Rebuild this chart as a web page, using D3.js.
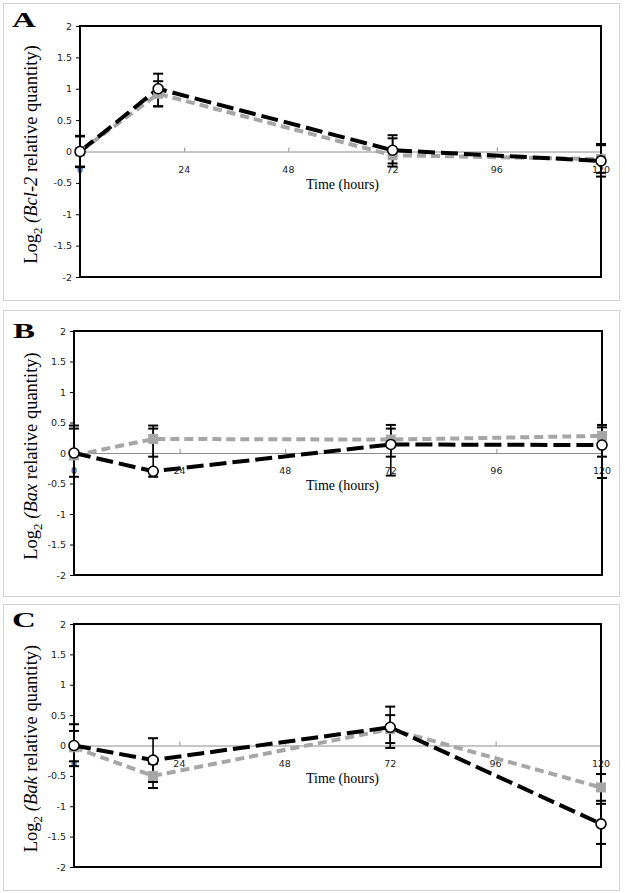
<!DOCTYPE html>
<html>
<head>
<meta charset="utf-8">
<script src="https://cdn.jsdelivr.net/npm/d3@7"></script>
<style>
  html, body { margin: 0; padding: 0; background: #fff; }
  svg { display: block; }
</style>
</head>
<body>
<svg id="chart" width="625" height="893"></svg>
<script>
// ---------- data ----------
const times = [0, 18, 72, 120];
const xTicks = [0, 24, 48, 72, 96, 120];
const yTicks = [-2, -1.5, -1, -0.5, 0, 0.5, 1, 1.5, 2];
const panelLetters = ["A", "B", "C"];
const geneNames = ["Bcl-2", "Bax", "Bak"];

// Bcl-2
const bcl2Gray      = [0, 0.92, -0.06, -0.12];
const bcl2GrayUp    = [0.24, 0.20, 0.27, 0.22];
const bcl2GrayDn    = [0.24, 0.20, 0.13, 0.22];
const bcl2Black     = [0, 1.00, 0.02, -0.15];
const bcl2BlackUp   = [0.25, 0.24, 0.24, 0.27];
const bcl2BlackDn   = [0.25, 0.28, 0.26, 0.25];

// Bax
const baxGray       = [-0.04, 0.23, 0.22, 0.28];
const baxGrayUp     = [0.49, 0.22, 0.24, 0.18];
const baxGrayDn     = [0.02, 0.29, 0.28, 0.34];
const baxBlack      = [0, -0.30, 0.14, 0.13];
const baxBlackUp    = [0.40, 0.70, 0.26, 0.29];
const baxBlackDn    = [0.39, 0.09, 0.51, 0.54];

// Bak
const bakGray       = [-0.03, -0.50, 0.27, -0.69];
const bakGrayUp     = [0.27, 0.20, 0.23, 0.22];
const bakGrayDn     = [0.23, 0.20, 0.23, 0.22];
const bakBlack      = [0, -0.24, 0.30, -1.29];
const bakBlackUp    = [0.35, 0.36, 0.34, 0.33];
const bakBlackDn    = [0.34, 0.36, 0.34, 0.33];

const panelsData = [
  { gray: bcl2Gray, grayUp: bcl2GrayUp, grayDn: bcl2GrayDn, black: bcl2Black, blackUp: bcl2BlackUp, blackDn: bcl2BlackDn },
  { gray: baxGray,  grayUp: baxGrayUp,  grayDn: baxGrayDn,  black: baxBlack,  blackUp: baxBlackUp,  blackDn: baxBlackDn },
  { gray: bakGray,  grayUp: bakGrayUp,  grayDn: bakGrayDn,  black: bakBlack,  blackUp: bakBlackUp,  blackDn: bakBlackDn }
];

// ---------- layout ----------
const frames = [
  { x: 3.5, y: 3.5, w: 616, h: 297, left: 80, right: 601, top: 26, bottom: 277, letterX: 12, letterY: 27 },
  { x: 3.5, y: 310.5, w: 616, h: 286, left: 74, right: 602, top: 331, bottom: 575, letterX: 13, letterY: 338 },
  { x: 3.5, y: 604.5, w: 616, h: 286, left: 74, right: 601, top: 624, bottom: 867, letterX: 12, letterY: 627 }
];

const GRAY = "#a6a6a6";
const svg = d3.select("#chart");

frames.forEach((f, i) => {
  const d = panelsData[i];
  const g = svg.append("g");

  // panel frame
  g.append("rect").attr("x", f.x).attr("y", f.y).attr("width", f.w).attr("height", f.h)
    .attr("fill", "none").attr("stroke", "#d3d3d3").attr("stroke-width", 1);

  // letter
  g.append("text")
    .attr("transform", `translate(${f.letterX},${f.letterY}) scale(1.5,1)`)
    .attr("font-family", "Liberation Serif, Times New Roman, serif")
    .attr("font-size", 22).attr("font-weight", "bold").attr("fill", "#000")
    .text(panelLetters[i]);

  const x = d3.scaleLinear().domain([0, 120]).range([f.left, f.right]);
  const y = d3.scaleLinear().domain([-2, 2]).range([f.bottom, f.top]);

  // y axis ticks + labels
  const yAxis = d3.axisLeft(y).tickValues(yTicks).tickSize(4).tickPadding(4)
    .tickFormat(v => String(v));
  const ya = g.append("g").attr("transform", `translate(${f.left},0)`).call(yAxis);
  ya.select(".domain").remove();
  ya.selectAll("line").attr("stroke", "#000").attr("stroke-width", 1);
  ya.selectAll("text").attr("font-family", "DejaVu Sans, Verdana, sans-serif")
    .attr("font-size", 9.5).attr("fill", "#222");

  // zero line with x ticks
  const y0 = y(0);
  const xAxis = d3.axisTop(x).tickValues(xTicks).tickSize(4).tickFormat("");
  const xa = g.append("g").attr("transform", `translate(0,${y0})`).call(xAxis);
  xa.select(".domain").attr("stroke", "#8c8c8c").attr("stroke-width", 1);
  xa.selectAll("line").attr("stroke", "#8c8c8c");
  // x tick labels below zero line
  g.selectAll(".xl").data(xTicks).enter().append("text")
    .attr("x", v => x(v)).attr("y", y0 + 21)
    .attr("text-anchor", "middle")
    .attr("font-family", "DejaVu Sans, Verdana, sans-serif")
    .attr("font-size", 9.5).attr("fill", "#222")
    .text(v => v);

  // x axis title
  g.append("text").attr("x", 306).attr("y", y0 + 37)
    .attr("font-family", "Liberation Serif, Times New Roman, serif")
    .attr("font-size", 14).attr("fill", "#000")
    .text("Time (hours)");

  // y axis title
  const cy = (f.top + f.bottom) / 2 + 3;
  const yt = g.append("text")
    .attr("transform", `translate(37,${cy}) rotate(-90)`)
    .attr("text-anchor", "middle")
    .attr("font-family", "Liberation Serif, Times New Roman, serif")
    .attr("font-size", 18.5).attr("fill", "#000");
  yt.append("tspan").text("Log");
  yt.append("tspan").attr("font-size", 13).attr("dy", 5).text("2");
  yt.append("tspan").attr("dy", -5).text(" ");
  yt.append("tspan").attr("font-style", "italic").text("(" + geneNames[i]);
  yt.append("tspan").text(" relative quantity)");

  // plot border
  g.append("rect").attr("x", f.left).attr("y", f.top)
    .attr("width", f.right - f.left).attr("height", f.bottom - f.top)
    .attr("fill", "none").attr("stroke", "#000").attr("stroke-width", 2);

  // error bars
  function errBars(vals, up, dn) {
    const eg = g.append("g").attr("stroke", "#000");
    vals.forEach((v, k) => {
      const cx = x(times[k]);
      const yt1 = y(v + up[k]), yb1 = y(v - dn[k]);
      eg.append("line").attr("x1", cx).attr("x2", cx).attr("y1", yt1).attr("y2", yb1).attr("stroke-width", 1.6);
      eg.append("line").attr("x1", cx - 5).attr("x2", cx + 5).attr("y1", yt1).attr("y2", yt1).attr("stroke-width", 2);
      eg.append("line").attr("x1", cx - 5).attr("x2", cx + 5).attr("y1", yb1).attr("y2", yb1).attr("stroke-width", 2);
    });
  }
  errBars(d.gray, d.grayUp, d.grayDn);
  errBars(d.black, d.blackUp, d.blackDn);

  const line = d3.line().x((v, k) => x(times[k])).y(v => y(v));
  g.append("path").datum(d.gray).attr("d", line)
    .attr("fill", "none").attr("stroke", GRAY).attr("stroke-width", 4)
    .attr("stroke-dasharray", "9,5");
  g.append("path").datum(d.black).attr("d", line)
    .attr("fill", "none").attr("stroke", "#000").attr("stroke-width", 4)
    .attr("stroke-dasharray", "17,6");

  g.selectAll(".sq").data(d.gray).enter().append("rect")
    .attr("x", (v, k) => x(times[k]) - 5).attr("y", v => y(v) - 5)
    .attr("width", 10).attr("height", 10).attr("fill", GRAY);
  g.selectAll(".ci").data(d.black).enter().append("circle")
    .attr("cx", (v, k) => x(times[k])).attr("cy", v => y(v)).attr("r", 5)
    .attr("fill", "#fff").attr("stroke", "#000").attr("stroke-width", 1.6);
});
</script>
</body>
</html>
